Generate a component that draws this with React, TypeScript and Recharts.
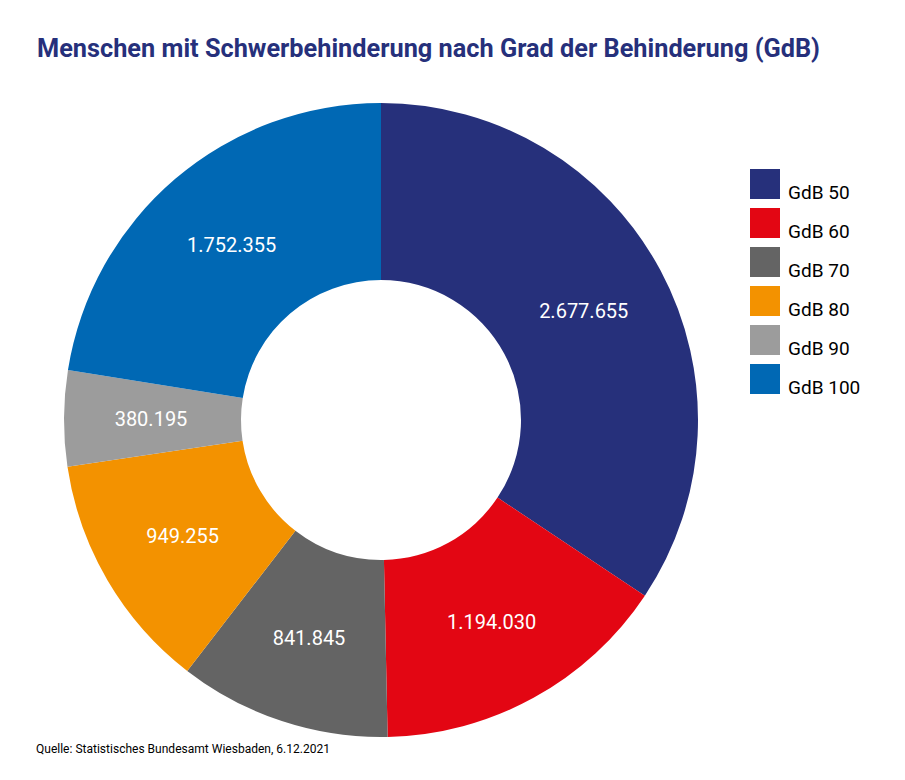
import { PieChart, Pie, Cell, Legend } from "recharts";

const categories = ["GdB 50", "GdB 60", "GdB 70", "GdB 80", "GdB 90", "GdB 100"];
const values = [2677655, 1194030, 841845, 949255, 380195, 1752355];
const valueLabels = ["2.677.655", "1.194.030", "841.845", "949.255", "380.195", "1.752.355"];
const COLORS = ["#26307b", "#e30613", "#646464", "#f39200", "#9c9c9c", "#0068b4"];

const TITLE = "Menschen mit Schwerbehinderung nach Grad der Behinderung (GdB)";
const SOURCE = "Quelle: Statistisches Bundesamt Wiesbaden, 6.12.2021";

const data = categories.map((name, i) => ({ name, value: values[i], label: valueLabels[i] }));

const RAD = Math.PI / 180;

const renderLabel = (props: any) => {
    const { cx, cy, midAngle, index } = props;
    const r = 230;
    const x = cx + r * Math.cos(-midAngle * RAD);
    const y = cy + r * Math.sin(-midAngle * RAD);
    return (
        <text
            x={x}
            y={y}
            fill="#ffffff"
            textAnchor="middle"
            dominantBaseline="central"
            fontFamily="Roboto"
            fontSize={20}
        >
            {valueLabels[index]}
        </text>
    );
};

const LegendContent = () => (
    <div style={{ fontFamily: "Roboto", fontSize: 19, color: "#000" }}>
        {categories.map((c, i) => (
            <div key={c} style={{ display: "flex", alignItems: "flex-end", height: 39 }}>
                <span style={{ width: 30, height: 30, background: COLORS[i], display: "inline-block" }} />
                <span style={{ marginLeft: 8, lineHeight: "19px", marginBottom: -3 }}>{c}</span>
            </div>
        ))}
    </div>
);

export default function App() {
    return (
        <div style={{ position: "absolute", left: 0, top: 0, width: 905, height: 780, background: "#fff" }}>
            <PieChart width={905} height={780} margin={{ top: 0, right: 0, bottom: 0, left: 0 }}>
                <Pie
                    data={data}
                    dataKey="value"
                    nameKey="name"
                    cx={381}
                    cy={420}
                    innerRadius={140}
                    outerRadius={317}
                    startAngle={90}
                    endAngle={-270}
                    stroke="none"
                    label={renderLabel}
                    labelLine={false}
                    isAnimationActive={false}
                >
                    {data.map((_, i) => (
                        <Cell key={i} fill={COLORS[i]} />
                    ))}
                </Pie>
                <Legend
                    content={<LegendContent />}
                    wrapperStyle={{ position: "absolute", left: 750, top: 160, width: 140 }}
                />
            </PieChart>
            <svg width={905} height={780} style={{ position: "absolute", left: 0, top: 0, pointerEvents: "none" }}>
                <text
                    x={37}
                    y={57}
                    fontFamily="Roboto"
                    fontWeight={700}
                    fontSize={25}
                    fill="#26307b"
                    textLength={783}
                    lengthAdjust="spacingAndGlyphs"
                >
                    {TITLE}
                </text>
                <text
                    x={36}
                    y={753}
                    fontFamily="Roboto"
                    fontSize={12.5}
                    fill="#000"
                    textLength={294}
                    lengthAdjust="spacingAndGlyphs"
                >
                    {SOURCE}
                </text>
            </svg>
        </div>
    );
}
